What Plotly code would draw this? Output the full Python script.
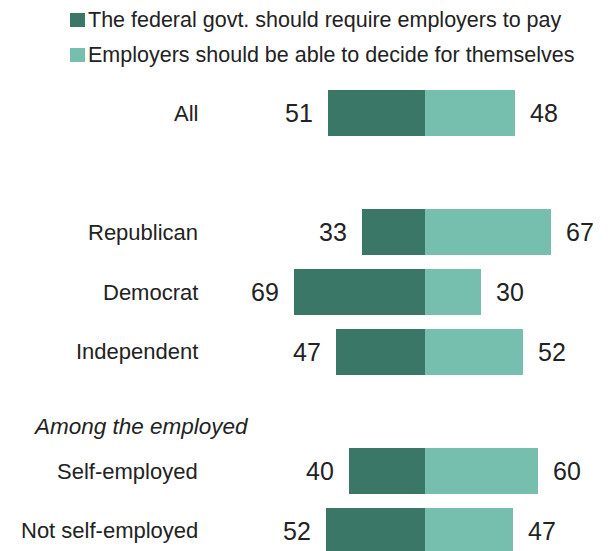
import plotly.graph_objects as go

# Survey groups, top to bottom ("" rows are spacers)
groups = ["All", "", "Republican", "Democrat", "Independent", "", "Self-employed", "Not self-employed"]
require_pay = [51, None, 33, 69, 47, None, 40, 52]
decide_themselves = [48, None, 67, 30, 52, None, 60, 47]
series_names = ["The federal govt. should require employers to pay",
                "Employers should be able to decide for themselves"]
section_label = "Among the employed"

DARK = "#3A7766"
LIGHT = "#76BFAE"
FONT = "Liberation Sans"
TXT = "#222222"

rows = list(range(len(groups)))
fig = go.Figure()

left_x = [-v if v is not None else None for v in require_pay]
fig.add_trace(go.Bar(y=rows, x=left_x, orientation="h", marker=dict(color=DARK, line_width=0),
                     width=0.77, showlegend=False))
fig.add_trace(go.Bar(y=rows, x=decide_themselves, orientation="h", marker=dict(color=LIGHT, line_width=0),
                     width=0.77, showlegend=False))

ann = []
for i, g in enumerate(groups):
    if g:
        ann.append(dict(x=200 / 611, xref="paper", y=i, yref="y", text=g, showarrow=False,
                        xanchor="right", yanchor="middle", font=dict(size=22, color=TXT, family=FONT)))
    if require_pay[i] is not None:
        ann.append(dict(x=-require_pay[i], y=i, text=str(require_pay[i]), showarrow=False,
                        xanchor="right", yanchor="middle", xshift=-13,
                        font=dict(size=25, color=TXT, family=FONT)))
    if decide_themselves[i] is not None:
        ann.append(dict(x=decide_themselves[i], y=i, text=str(decide_themselves[i]), showarrow=False,
                        xanchor="left", yanchor="middle", xshift=13,
                        font=dict(size=25, color=TXT, family=FONT)))

ann.append(dict(x=31 / 611, xref="paper", y=5, yref="y", yshift=-15, text="<i>" + section_label + "</i>",
                showarrow=False, xanchor="left", yanchor="middle",
                font=dict(size=22.5, color=TXT, family=FONT)))

# Legend drawn as swatches plus labels
shapes = []
for k, (name, col) in enumerate(zip(series_names, [DARK, LIGHT])):
    y_top = 1 - (13 + 35 * k) / 551
    y_bot = 1 - (27 + 35 * k) / 551
    shapes.append(dict(type="rect", xref="paper", yref="paper", x0=70 / 611, x1=85 / 611,
                       y0=y_bot, y1=y_top, fillcolor=col, line_width=0))
    ann.append(dict(x=86 / 611, xref="paper", y=1 - (20 + 35 * k) / 551, yref="paper", text=name,
                    showarrow=False, xanchor="left", yanchor="middle",
                    font=dict(size=21.5, color=TXT, family=FONT)))

zero_px = 424.5
px_per_unit = 1.885
row_px = 59.71
fig.update_layout(
    width=611, height=551, margin=dict(l=0, r=0, t=0, b=0),
    paper_bgcolor="white", plot_bgcolor="white",
    barmode="relative", bargap=0,
    xaxis=dict(range=[-zero_px / px_per_unit, (611 - zero_px) / px_per_unit], visible=False, fixedrange=True),
    yaxis=dict(range=[(551 - 113) / row_px, -113 / row_px], visible=False, fixedrange=True),
    annotations=ann, shapes=shapes,
)

fig.write_html("out.html")
